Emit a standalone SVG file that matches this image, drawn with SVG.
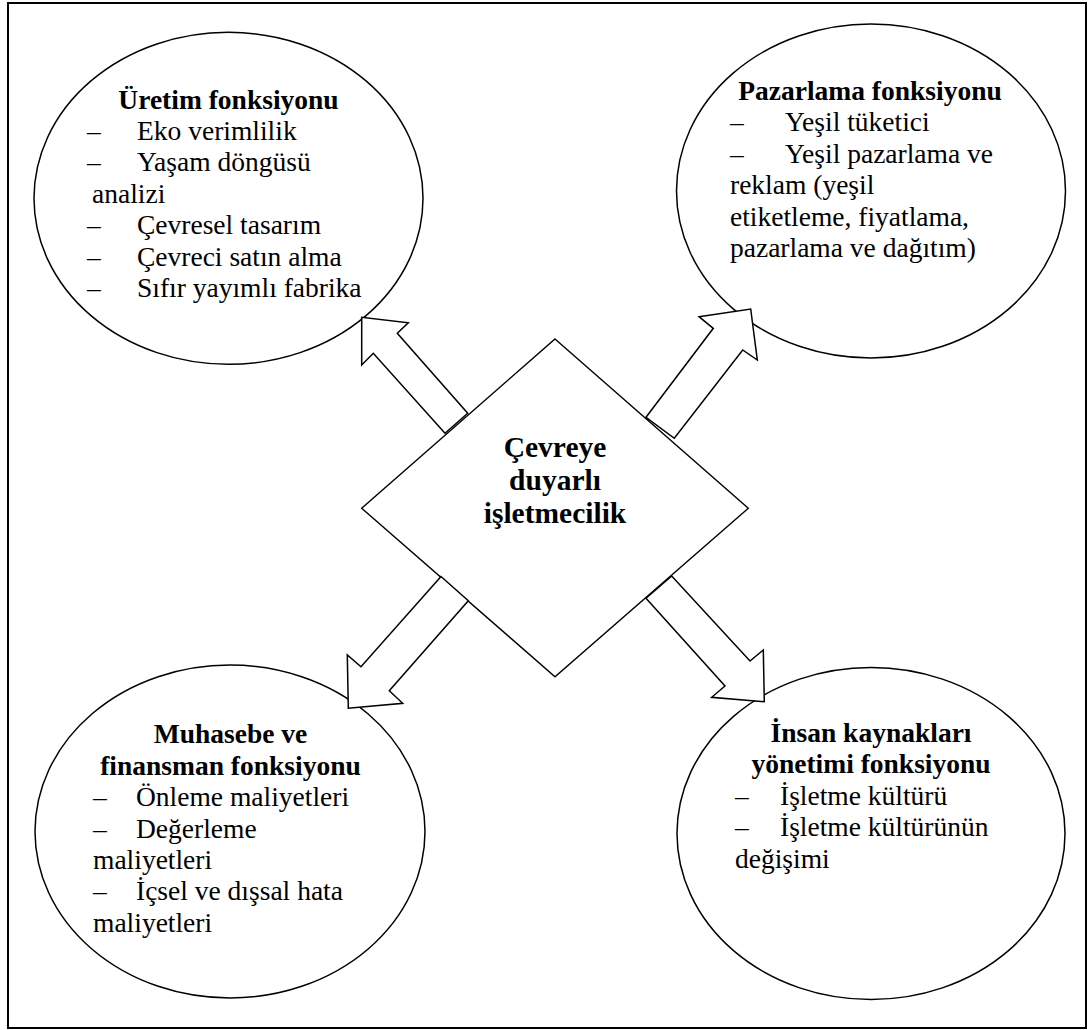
<svg xmlns="http://www.w3.org/2000/svg" width="1088" height="1030" viewBox="0 0 1088 1030">
  <style>
    .frame { fill: #ffffff; stroke: #000000; stroke-width: 2; }
    .oval { fill: #ffffff; stroke: #000000; stroke-width: 1.5; }
    .diamond { fill: #ffffff; stroke: #000000; stroke-width: 1.4; }
    .block { fill: #ffffff; stroke: #000000; stroke-width: 1.5; stroke-linejoin: miter; }
    .txt { font-family: 'Liberation Serif', 'Times New Roman', Times, 'DejaVu Serif', serif; fill: #000000; }
    .title { font-size: 27.5px; font-weight: bold; text-anchor: middle; }
    .item { font-size: 27.5px; }
    .center { font-size: 29.5px; font-weight: bold; text-anchor: middle; }
  </style>

  <!-- page frame -->
  <rect class="frame" x="8" y="3" width="1078" height="1025"/>

  <!-- top-left: production -->
  <g id="uretim" class="txt" font-family="Liberation Serif, serif">
    <ellipse class="oval" cx="228.5" cy="198.3" rx="194.5" ry="166"/>
    <text class="title" x="228.5" y="108.5">Üretim fonksiyonu</text>
    <text class="item" x="87" y="139.9">–</text>
    <text class="item" x="137" y="139.9">Eko verimlilik</text>
    <text class="item" x="87" y="171.3">–</text>
    <text class="item" x="137" y="171.3">Yaşam döngüsü</text>
    <text class="item" x="92" y="202.7">analizi</text>
    <text class="item" x="87" y="234.1">–</text>
    <text class="item" x="137" y="234.1">Çevresel tasarım</text>
    <text class="item" x="87" y="265.5">–</text>
    <text class="item" x="137" y="265.5">Çevreci satın alma</text>
    <text class="item" x="87" y="296.9">–</text>
    <text class="item" x="137" y="296.9">Sıfır yayımlı fabrika</text>
  </g>

  <!-- top-right: marketing -->
  <g id="pazarlama" class="txt" font-family="Liberation Serif, serif">
    <ellipse class="oval" cx="871" cy="191" rx="194.5" ry="167"/>
    <text class="title" x="870" y="100">Pazarlama fonksiyonu</text>
    <text class="item" x="730" y="131.4">–</text>
    <text class="item" x="785" y="131.4">Yeşil tüketici</text>
    <text class="item" x="730" y="162.8">–</text>
    <text class="item" x="785" y="162.8">Yeşil pazarlama ve</text>
    <text class="item" x="730" y="194.2">reklam (yeşil</text>
    <text class="item" x="730" y="225.6">etiketleme, fiyatlama,</text>
    <text class="item" x="730" y="257">pazarlama ve dağıtım)</text>
  </g>

  <!-- bottom-left: accounting and finance -->
  <g id="muhasebe" class="txt" font-family="Liberation Serif, serif">
    <ellipse class="oval" cx="230" cy="831.5" rx="195" ry="166.5"/>
    <text class="title" x="230.5" y="743.3">Muhasebe ve</text>
    <text class="title" x="230.5" y="774.7">finansman fonksiyonu</text>
    <text class="item" x="93" y="806.1">–</text>
    <text class="item" x="136" y="806.1">Önleme maliyetleri</text>
    <text class="item" x="93" y="837.5">–</text>
    <text class="item" x="136" y="837.5">Değerleme</text>
    <text class="item" x="93" y="868.9">maliyetleri</text>
    <text class="item" x="93" y="900.3">–</text>
    <text class="item" x="136" y="900.3">İçsel ve dışsal hata</text>
    <text class="item" x="93" y="931.7">maliyetleri</text>
  </g>

  <!-- bottom-right: human resources -->
  <g id="insan-kaynaklari" class="txt" font-family="Liberation Serif, serif">
    <ellipse class="oval" cx="871" cy="833.5" rx="194" ry="166"/>
    <text class="title" x="871" y="742">İnsan kaynakları</text>
    <text class="title" x="871" y="773.4">yönetimi fonksiyonu</text>
    <text class="item" x="735" y="804.8">–</text>
    <text class="item" x="780" y="804.8">İşletme kültürü</text>
    <text class="item" x="735" y="836.2">–</text>
    <text class="item" x="780" y="836.2">İşletme kültürünün</text>
    <text class="item" x="735" y="867.6">değişimi</text>
  </g>

  <!-- centre: environmentally responsible management -->
  <g id="merkez" class="txt" font-family="Liberation Serif, serif">
    <polygon class="diamond" points="555,339 748.3,508.3 555,676.7 361.7,508.3"/>
    <text class="center" x="555" y="456.7">Çevreye</text>
    <text class="center" x="555" y="490">duyarlı</text>
    <text class="center" x="555" y="523.3">işletmecilik</text>
  </g>

  <!-- block arrows from the centre out to each function -->
  <g id="connectors">
    <polygon class="block" points="445,433.3 373.3,353.3 361.7,365 361.7,317.3 408.3,322.7 397.3,333.3 467.7,413.3"/>
    <polygon class="block" points="646,417.3 713.3,328.3 699,316.7 750.7,309 757.3,360 742.7,350 674.3,438.3"/>
    <polygon class="block" points="441,576.5 361,666.7 347.3,655 348.3,708.3 402.7,703.3 389.3,690.7 468.3,600.8"/>
    <polygon class="block" points="646,598.3 725,686 711.7,697.3 764.3,701.7 763.3,650 750,661 671.7,576"/>
  </g>
</svg>
